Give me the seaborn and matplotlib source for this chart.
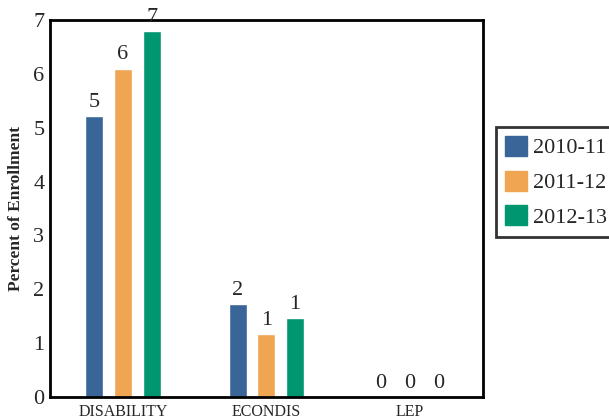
import matplotlib
matplotlib.use("Agg")
import matplotlib.pyplot as plt
import seaborn as sns
import pandas as pd

# données
categories = ["DISABILITY", "ECONDIS", "LEP"]
years = ["2010-11", "2011-12", "2012-13"]
pct_2010 = [5.21, 1.73, 0.0]
pct_2011 = [6.10, 1.17, 0.0]
pct_2012 = [6.80, 1.47, 0.0]
colors = ["#3A6598", "#F0A553", "#009670"]

df = pd.DataFrame({
    "group": categories * 3,
    "year": [y for y in years for _ in categories],
    "pct": pct_2010 + pct_2011 + pct_2012,
})

sns.set_style("white")
plt.rcParams["font.family"] = ["Liberation Serif", "DejaVu Serif"]

fig = plt.figure(figsize=(6.09, 4.2), dpi=100)
ax = fig.add_axes([0.082, 0.055, 0.711, 0.897])

sns.barplot(data=df, x="group", y="pct", hue="year", order=categories,
            hue_order=years, palette=colors, width=0.6, gap=0.37,
            saturation=1, errorbar=None, ax=ax)

for cont in ax.containers:
    ax.bar_label(cont, labels=[f"{b.get_height():.0f}" for b in cont],
                 padding=3, fontsize=16)

ax.set_ylim(0, 7)
ax.set_xlim(-0.51, 2.51)
ax.set_yticks(range(8))
ax.tick_params(axis="y", labelsize=16, length=0, pad=4)
ax.tick_params(axis="x", labelsize=11.5, length=0, pad=5)
ax.set_xlabel("")
ax.set_ylabel("Percent of Enrollment", fontsize=12.5, fontweight="bold", labelpad=7)

for s in ax.spines.values():
    s.set_visible(True)
    s.set_color("black")
    s.set_linewidth(2)

ax.get_legend().remove()
handles = [plt.Rectangle((0, 0), 1, 1, color=c) for c in colors]
leg = ax.legend(handles, years, loc="upper left",
                bbox_to_anchor=(496 / 609, 1 - 127 / 420),
                bbox_transform=fig.transFigure, fontsize=16,
                handlelength=1.0, handleheight=1.0, handletextpad=0.25,
                labelspacing=0.55, borderpad=0.4, borderaxespad=0,
                frameon=True, fancybox=False, edgecolor="black")
leg.get_frame().set_linewidth(2)

fig.savefig("out.png", dpi=100)
